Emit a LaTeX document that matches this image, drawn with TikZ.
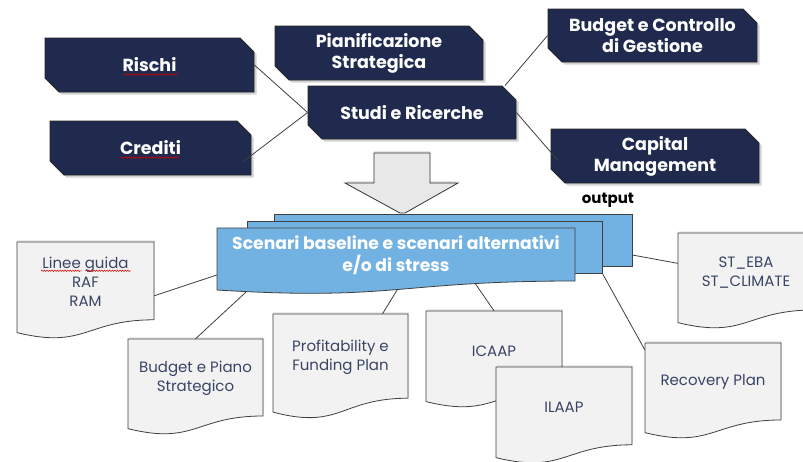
\documentclass[tikz,border=0pt]{standalone}
\usepackage{fontspec}
\setmainfont{Poppins}
\usetikzlibrary{shapes.misc,shadows,calc,decorations.pathmorphing}
\definecolor{navy}{HTML}{1F2A4E}
\definecolor{docfill}{HTML}{F2F2F2}
\definecolor{doctext}{HTML}{3A4565}
\definecolor{scenblue}{HTML}{72B2E3}
\definecolor{arrowfill}{HTML}{E8E8E8}
\tikzset{
  darkbox/.style={chamfered rectangle, chamfered rectangle corners={north east,south west},
    chamfered rectangle xsep=7pt, chamfered rectangle ysep=7pt, fill=navy, draw=black!85,
    line width=0.8pt, text=white, font=\bfseries\fontsize{17.5}{21}\selectfont, align=center,
    inner sep=0pt, drop shadow={shadow xshift=2.5pt, shadow yshift=-2.5pt, opacity=0.35}},
  link/.style={draw=black!75, line width=0.8pt},
  docshape/.style={fill=docfill, draw=black!75, line width=0.8pt,
    drop shadow={shadow xshift=1pt, shadow yshift=2pt, opacity=0.15}},
  doclabel/.style={inner sep=0pt, text=doctext, font=\fontsize{15}{19}\selectfont, align=center},
  scenshape/.style={fill=scenblue, draw=black!75, line width=0.8pt},
  scenlabel/.style={inner sep=0pt, text=white, font=\bfseries\fontsize{17.2}{22.5}\selectfont, align=center},
  squiggle/.style={draw=red!85!black, line width=0.5pt, decorate,
    decoration={snake, amplitude=0.7pt, segment length=2.6pt}},
}
\newcommand{\docpaper}[6]{%
  \path[docshape] (#2,#3) -- ({#2+#4},#3) -- ({#2+#4},{#3+0.802*#5})
     .. controls ({#2+0.5*#4},{#3+0.802*#5}) and ({#2+0.5*#4},{#3+1.107*#5}) .. (#2,{#3+0.934*#5}) -- cycle;
  \node[doclabel, minimum width={#4pt}, minimum height={0.82*#5pt}] (#1) at ({#2+0.5*#4},{#3+0.41*#5}) {#6};
}
\begin{document}
\begin{tikzpicture}[x=1pt,y=-1pt]
\clip (0,0) rectangle (803,461);
\fill[white] (0,0) rectangle (803,461);

% top dark boxes
\node[darkbox, minimum width=209pt, minimum height=54pt] (ris) at (149.5,65) {Rischi};
\node[darkbox, minimum width=201pt, minimum height=54pt] (cred) at (150.5,148) {Crediti};
\node[darkbox, minimum width=208pt, minimum height=54pt] (pian) at (379,53) {Pianificazione\\Strategica};
\node[darkbox, minimum width=208pt, minimum height=53pt] (studi) at (412,112.5) {Studi e Ricerche};
\node[darkbox, minimum width=209pt, minimum height=53pt] (budg) at (652.5,35.5) {Budget e Controllo\\di Gestione};
\node[darkbox, minimum width=208pt, minimum height=54pt] (cap) at (655,156) {Capital\\Management};
\draw[squiggle] ($(ris.center)+(-26,9.5)$) -- ($(ris.center)+(28,9.5)$);
\draw[squiggle] ($(cred.center)+(-30.5,9.5)$) -- ($(cred.center)+(28.5,9.5)$);

\draw[link] (ris.east) -- (studi.west);
\draw[link] ($(cred.south east)+(-8,-14)$) -- (studi.west);
\draw[link] ($(studi.north)+(93,0)$) -- (budg.west);
\draw[link] (studi.east) -- ($(cap.west)+(7,4)$);

% big arrow
\filldraw[fill=arrowfill, draw=black!80, line width=0.8pt,
  drop shadow={shadow xshift=0pt, shadow yshift=2pt, opacity=0.2}]
  (374,153) -- (430,153) -- (430,183) -- (458,183) -- (405,213) -- (400,213) -- (345,183) -- (374,183) -- cycle;

% scenario stack
\node[scenshape, minimum width=358pt, minimum height=52pt, inner sep=0pt] (back) at (453,240) {};
\node[scenshape, minimum width=355pt, minimum height=52pt, inner sep=0pt] (mid) at (424.5,247) {};
\path[scenshape] (217,228) -- (575,228) -- (575,281)
   .. controls (396,281) and (396,301) .. (217,290) -- cycle;
\node[scenlabel, minimum width=358pt, minimum height=54pt] (scen) at (396,255)
  {Scenari baseline e scenari alternativi\\e/o di stress};
\node[font=\bfseries\fontsize{15}{17}\selectfont, text=black, inner sep=0pt] (out) at (608,200) {output};

% documents
\docpaper{lg}{17}{242}{137}{97}{Linee guida\\RAF\\RAM}
\docpaper{bp}{128}{339}{135}{96}{Budget e Piano\\Strategico}
\docpaper{pf}{273}{314}{135}{105}{Profitability e\\Funding Plan}
\docpaper{ic}{426}{311}{136}{97}{ICAAP}
\docpaper{il}{496}{367}{136}{97}{ILAAP}
\docpaper{st}{678}{233}{136}{96}{ST\_EBA\\ST\_CLIMATE}
\docpaper{rec}{645}{343}{136}{96}{Recovery Plan}
\draw[squiggle] ($(lg.center)+(-44.5,-11)$) -- ($(lg.center)+(-4,-11)$);
\draw[squiggle] ($(lg.center)+(0,-11)$) -- ($(lg.center)+(45,-11)$);

\draw[link] ($(lg.east)+(0,14)$) -- ($(scen.west)+(0,20)$);
\draw[link] (bp.north) -- ($(scen.south west)+(29,10)$);
\draw[link] ($(pf.north)+(42,0)$) -- ($(scen.south)+(1,8)$);
\draw[link] (ic.north) -- ($(scen.south)+(79,1)$);
\draw[link] ($(back.east)+(0,15)$) -- ($(st.west)+(0,-9)$);
\draw[link] (mid.south east) -- ($(rec.north west)+(0,7)$);
\end{tikzpicture}
\end{document}
